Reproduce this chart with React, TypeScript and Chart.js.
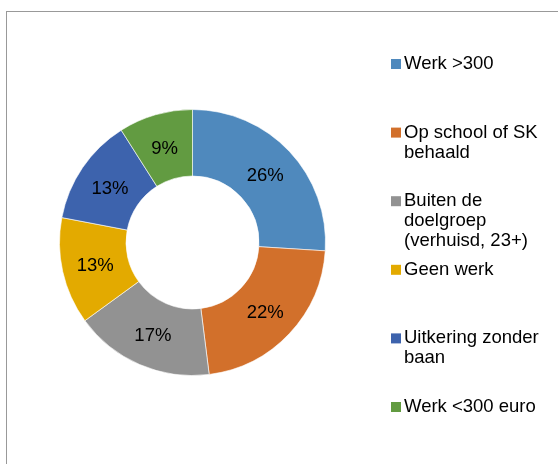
import React, { useEffect, useRef } from "react";
import { Chart, registerables } from "chart.js";

Chart.register(...registerables);

const categories: string[][] = [
  ["Werk >300"],
  ["Op school of SK", "behaald"],
  ["Buiten de", "doelgroep", "(verhuisd, 23+)"],
  ["Geen werk"],
  ["Uitkering zonder", "baan"],
  ["Werk <300 euro"],
];
const values: number[] = [26, 22, 17, 13, 13, 9];
const colors: string[] = ["#4F89BD", "#D2702B", "#929292", "#E3AA00", "#3D63AD", "#629B41"];

const FONT = "18.5px 'Liberation Sans', Arial, sans-serif";

const labelPlugin = {
  id: "sliceLabels",
  afterDatasetsDraw(chart: any) {
    const ctx = chart.ctx;
    const meta = chart.getDatasetMeta(0);
    const data = chart.data.datasets[0].data as number[];
    const total = data.reduce((a, b) => a + b, 0);
    ctx.save();
    ctx.font = FONT;
    ctx.fillStyle = "#000";
    ctx.textAlign = "center";
    ctx.textBaseline = "middle";
    meta.data.forEach((arc: any, i: number) => {
      const p = arc.tooltipPosition();
      const pct = Math.round((data[i] / total) * 100) + "%";
      ctx.fillText(pct, p.x, p.y + 2);
    });
    ctx.restore();
  },
};

const legendPlugin = {
  id: "sideLegend",
  afterDraw(chart: any) {
    const ctx = chart.ctx;
    const labels = chart.data.labels as string[][];
    const bg = chart.data.datasets[0].backgroundColor as string[];
    const startY = 64;
    const step = 68.6;
    const lineH = 20;
    ctx.save();
    ctx.font = FONT;
    ctx.textBaseline = "middle";
    ctx.textAlign = "left";
    labels.forEach((lines, i) => {
      const y = startY + i * step;
      ctx.fillStyle = bg[i];
      ctx.fillRect(391, y - 5, 10, 10);
      ctx.fillStyle = "#000";
      lines.forEach((t, j) => ctx.fillText(t, 404, y + j * lineH));
    });
    ctx.restore();
  },
};

export default function App() {
  const ref = useRef<HTMLCanvasElement | null>(null);
  useEffect(() => {
    if (!ref.current) return;
    const chart = new Chart(ref.current, {
      type: "doughnut",
      data: {
        labels: categories as any,
        datasets: [
          {
            data: values,
            backgroundColor: colors,
            borderColor: "rgba(255,255,255,0.6)",
            borderWidth: 1,
          },
        ],
      },
      options: {
        animation: false,
        responsive: false,
        cutout: "50%",
        layout: { padding: { left: 59, right: 232, top: 109, bottom: 88 } },
        plugins: { legend: { display: false }, tooltip: { enabled: false } },
      },
      plugins: [labelPlugin, legendPlugin],
    });
    return () => chart.destroy();
  }, []);
  return (
    <div style={{ position: "fixed", left: 0, top: 0, width: 558, height: 464, background: "#fff", overflow: "hidden" }}>
      <div
        style={{
          position: "absolute",
          left: 6,
          top: 11,
          width: 600,
          height: 500,
          border: "1px solid #999",
          boxSizing: "border-box",
        }}
      />
      <canvas ref={ref} width={558} height={464} style={{ position: "absolute", left: 0, top: 0 }} />
    </div>
  );
}
